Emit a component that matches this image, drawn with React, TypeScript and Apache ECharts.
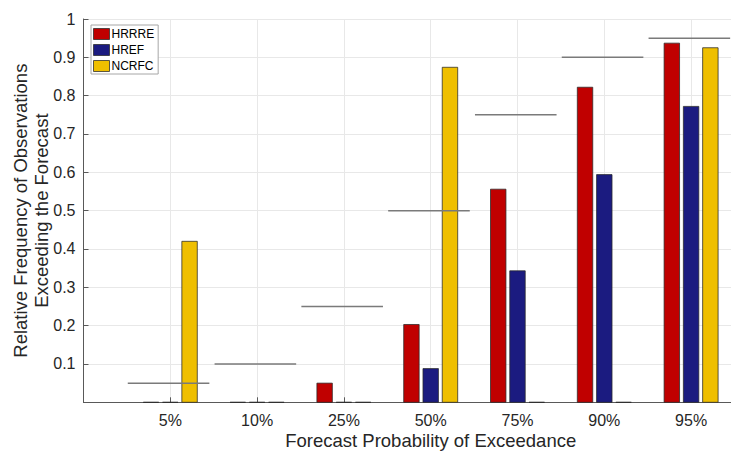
import React, { useEffect, useRef } from "react";
import * as echarts from "echarts";

// Forecast probability bins along the x axis
const categories = ["5%", "10%", "25%", "50%", "75%", "90%", "95%"];
// Nominal exceedance probability of each bin (perfect-reliability reference)
const nominal = [0.05, 0.1, 0.25, 0.5, 0.75, 0.9, 0.95];
// Observed relative frequency of exceedance for each forecast system
const hrrre = [0, 0, 0.05, 0.203, 0.556, 0.822, 0.937];
const href = [0, 0, 0, 0.088, 0.343, 0.594, 0.772];
const ncrfc = [0.42, 0, 0, 0.874, 0, 0, 0.925];
const yTicks = [0, 0.1, 0.2, 0.3, 0.4, 0.5, 0.6, 0.7, 0.8, 0.9, 1];

const FONT = "'Liberation Sans', Arial, Helvetica, sans-serif";
const INK = "#262626";
const BAR_HALF = 0.089;
const GROUP_STEP = 0.222;

function barSeries(name: string, values: number[], color: string, slot: number) {
  return {
    type: "custom",
    name,
    itemStyle: { color },
    encode: { x: 0, y: 1 },
    data: values.map((v, i) => [i + 1, v]),
    z: 2,
    renderItem: (params: any, api: any) => {
      const cx = api.value(0) + slot * GROUP_STEP;
      const v = api.value(1);
      const p0 = api.coord([cx - BAR_HALF, v]);
      const p1 = api.coord([cx + BAR_HALF, 0]);
      return {
        type: "rect",
        shape: { x: p0[0], y: p0[1], width: p1[0] - p0[0], height: p1[1] - p0[1] },
        style: { fill: color, stroke: "rgba(40,40,40,0.75)", lineWidth: 1 },
      };
    },
  };
}

export default function App() {
  const ref = useRef<HTMLDivElement>(null);

  useEffect(() => {
    document.body.style.margin = "0";
    if (!ref.current) return;
    const chart = echarts.init(ref.current, undefined, { renderer: "svg" });
    chart.setOption({
      animation: false,
      backgroundColor: "#ffffff",
      textStyle: { fontFamily: FONT },
      grid: {
        left: 83.5,
        top: 19,
        width: 694.4,
        height: 383.3,
        containLabel: false,
        outerBoundsMode: "none",
      },
      legend: {
        data: ["HRRRE", "HREF", "NCRFC"],
        orient: "vertical",
        left: 91,
        top: 25,
        padding: [3, 4, 2, 2],
        itemWidth: 16,
        itemHeight: 11,
        itemGap: 4,
        backgroundColor: "#ffffff",
        borderColor: "#a6a6a6",
        borderWidth: 1,
        borderRadius: 0,
        icon: "rect",
        itemStyle: { borderColor: "rgba(40,40,40,0.75)", borderWidth: 1 },
        textStyle: { fontFamily: FONT, fontSize: 12, color: "#000", lineHeight: 11, padding: [0, 0, 0, -3] },
        selectedMode: false,
      },
      xAxis: {
        type: "value",
        min: 0,
        max: 8,
        interval: 1,
        name: "Forecast Probability of Exceedance",
        nameLocation: "middle",
        nameGap: 29,
        nameMoveOverlap: false,
        nameTextStyle: { fontFamily: FONT, fontSize: 18.5, color: INK, lineHeight: 18.5 },
        axisLine: { show: true, onZero: false, lineStyle: { color: "#595959", width: 1 } },
        axisTick: {
          show: true,
          inside: true,
          length: 5,
          lineStyle: { color: "#595959" },
        },
        axisLabel: {
          margin: 10.5,
          fontFamily: FONT,
          fontSize: 16,
          color: INK,
          formatter: (v: number) => categories[Math.round(v) - 1] ?? "",
        },
        splitLine: { show: true, lineStyle: { color: "#e8e8e8", width: 1 } },
      },
      yAxis: {
        type: "value",
        min: yTicks[0],
        max: yTicks[yTicks.length - 1],
        interval: 0.1,
        name: "Relative Frequency of Observations\nExceeding the Forecast",
        nameLocation: "middle",
        nameGap: 32,
        nameMoveOverlap: false,
        nameTextStyle: { fontFamily: FONT, fontSize: 18.5, color: INK, lineHeight: 21 },
        axisLine: { show: true, lineStyle: { color: "#595959", width: 1 } },
        axisTick: { show: true, inside: true, length: 5, lineStyle: { color: "#595959" } },
        axisLabel: {
          margin: 8,
          fontFamily: FONT,
          fontSize: 16,
          color: INK,
          formatter: (v: number) => (v === 0 ? "" : String(+v.toFixed(1))),
        },
        splitLine: { show: true, lineStyle: { color: "#e8e8e8", width: 1 } },
      },
      series: [
        barSeries("HRRRE", hrrre, "#c00000", -1),
        barSeries("HREF", href, "#1b1b80", 0),
        barSeries("NCRFC", ncrfc, "#efbf00", 1),
        {
          type: "custom",
          name: "Nominal",
          encode: { x: 0, y: 1 },
          data: nominal.map((p, i) => [i + 1, p]),
          z: 3,
          renderItem: (params: any, api: any) => {
            const c = api.value(0);
            const p = api.value(1);
            const a = api.coord([c - 0.49, p]);
            const b = api.coord([c + 0.45, p]);
            return {
              type: "line",
              shape: { x1: a[0], y1: a[1], x2: b[0], y2: b[1] },
              style: { stroke: "#7a7a7a", lineWidth: 1.5 },
            };
          },
        },
      ],
    });
    return () => chart.dispose();
  }, []);

  return (
    <div
      ref={ref}
      style={{ position: "absolute", left: 0, top: 0, width: 731, height: 452 }}
    />
  );
}
